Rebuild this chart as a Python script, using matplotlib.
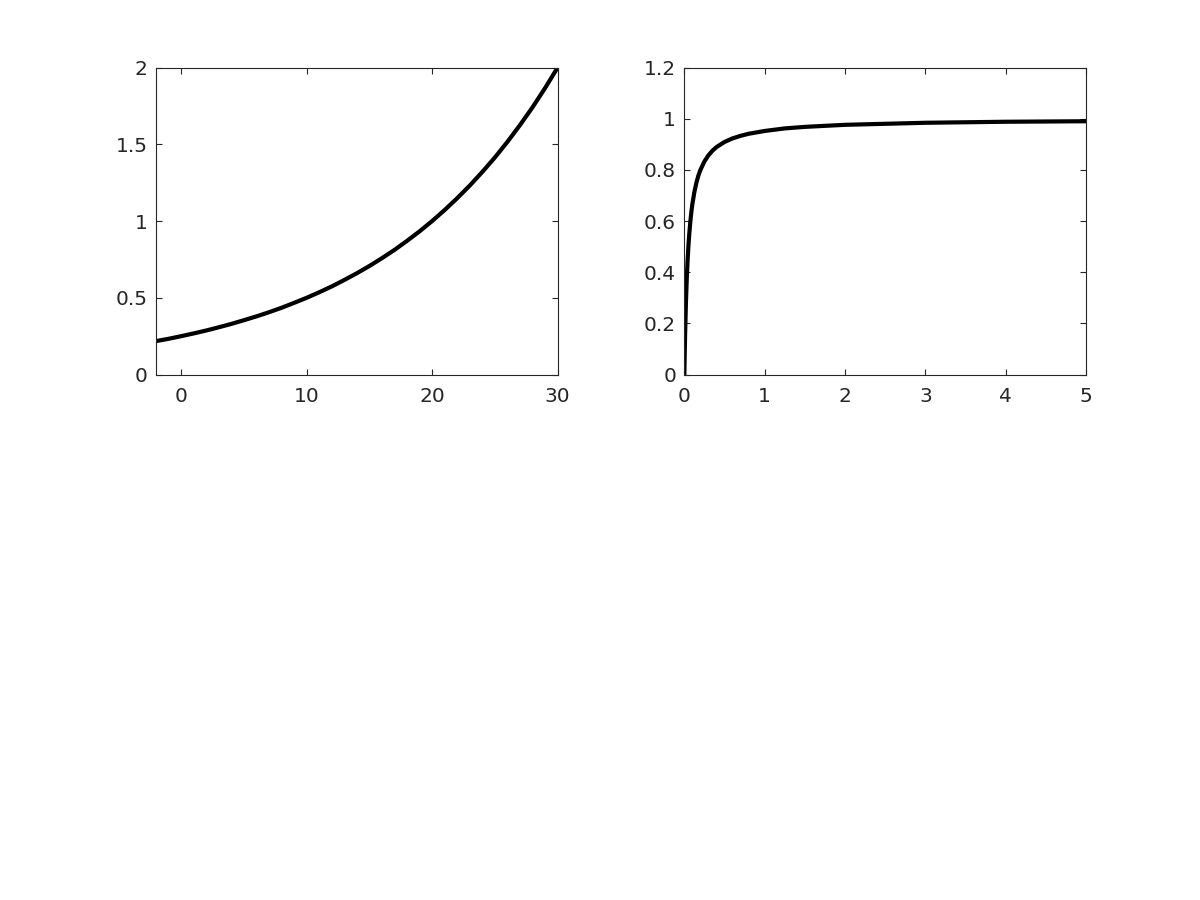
import matplotlib
matplotlib.use("Agg")
from matplotlib import pyplot as plt

# left panel: values
x_left = [-2, -1, 0, 1, 2, 3, 4, 5, 6, 7, 8, 9, 10, 11, 12, 13, 14, 15, 16,
          17, 18, 19, 20, 21, 22, 23, 24, 25, 26, 27, 28, 29, 30]
y_left = [0.218, 0.233, 0.25, 0.268, 0.287, 0.308, 0.330, 0.354, 0.379, 0.406,
          0.435, 0.467, 0.5, 0.536, 0.574, 0.616, 0.660, 0.707, 0.758, 0.812,
          0.871, 0.933, 1.0, 1.072, 1.149, 1.231, 1.320, 1.414, 1.516, 1.625,
          1.741, 1.866, 2.0]

# right panel: values
x_right = [0, 0.005, 0.01, 0.02, 0.03, 0.04, 0.05, 0.06, 0.075, 0.09, 0.1, 0.125,
           0.15, 0.175, 0.2, 0.25, 0.3, 0.35, 0.4, 0.5, 0.6, 0.7, 0.8, 1.0, 1.25,
           1.5, 2.0, 2.5, 3.0, 4.0, 5.0]
y_right = [0, 0.091, 0.167, 0.286, 0.375, 0.444, 0.5, 0.545, 0.6, 0.643, 0.667,
           0.714, 0.75, 0.778, 0.8, 0.833, 0.857, 0.875, 0.889, 0.909, 0.923,
           0.933, 0.941, 0.952, 0.962, 0.968, 0.976, 0.980, 0.984, 0.988, 0.990]

plt.rcParams['font.family'] = ['DejaVu Sans']

fig = plt.figure(figsize=(12, 9), dpi=100)
ax1 = fig.add_axes([0.13, 0.5838, 0.3347, 0.3412])
ax2 = fig.add_axes([0.5703, 0.5838, 0.3347, 0.3412])

ax1.plot(x_left, y_left, color='black', linewidth=3)
ax1.set_xlim(-2, 30)
ax1.set_ylim(0, 2)
ax1.set_xticks([0, 10, 20, 30])
ax1.set_yticks([0, 0.5, 1, 1.5, 2])
ax1.set_yticklabels(['0', '0.5', '1', '1.5', '2'])

ax2.plot(x_right, y_right, color='black', linewidth=3)
ax2.set_xlim(0, 5)
ax2.set_ylim(0, 1.2)
ax2.set_xticks([0, 1, 2, 3, 4, 5])
ax2.set_yticks([0, 0.2, 0.4, 0.6, 0.8, 1, 1.2])
ax2.set_yticklabels(['0', '0.2', '0.4', '0.6', '0.8', '1', '1.2'])

for ax in (ax1, ax2):
    for s in ax.spines.values():
        s.set_color('#262626')
        s.set_linewidth(0.8)
    ax.tick_params(direction='in', length=4, width=0.8, color='#262626',
                   labelcolor='#262626', top=True, right=True, labelsize=14.5)
    ax.tick_params(axis='x', pad=9)
    ax.tick_params(axis='y', pad=6)

plt.savefig('out.png')
